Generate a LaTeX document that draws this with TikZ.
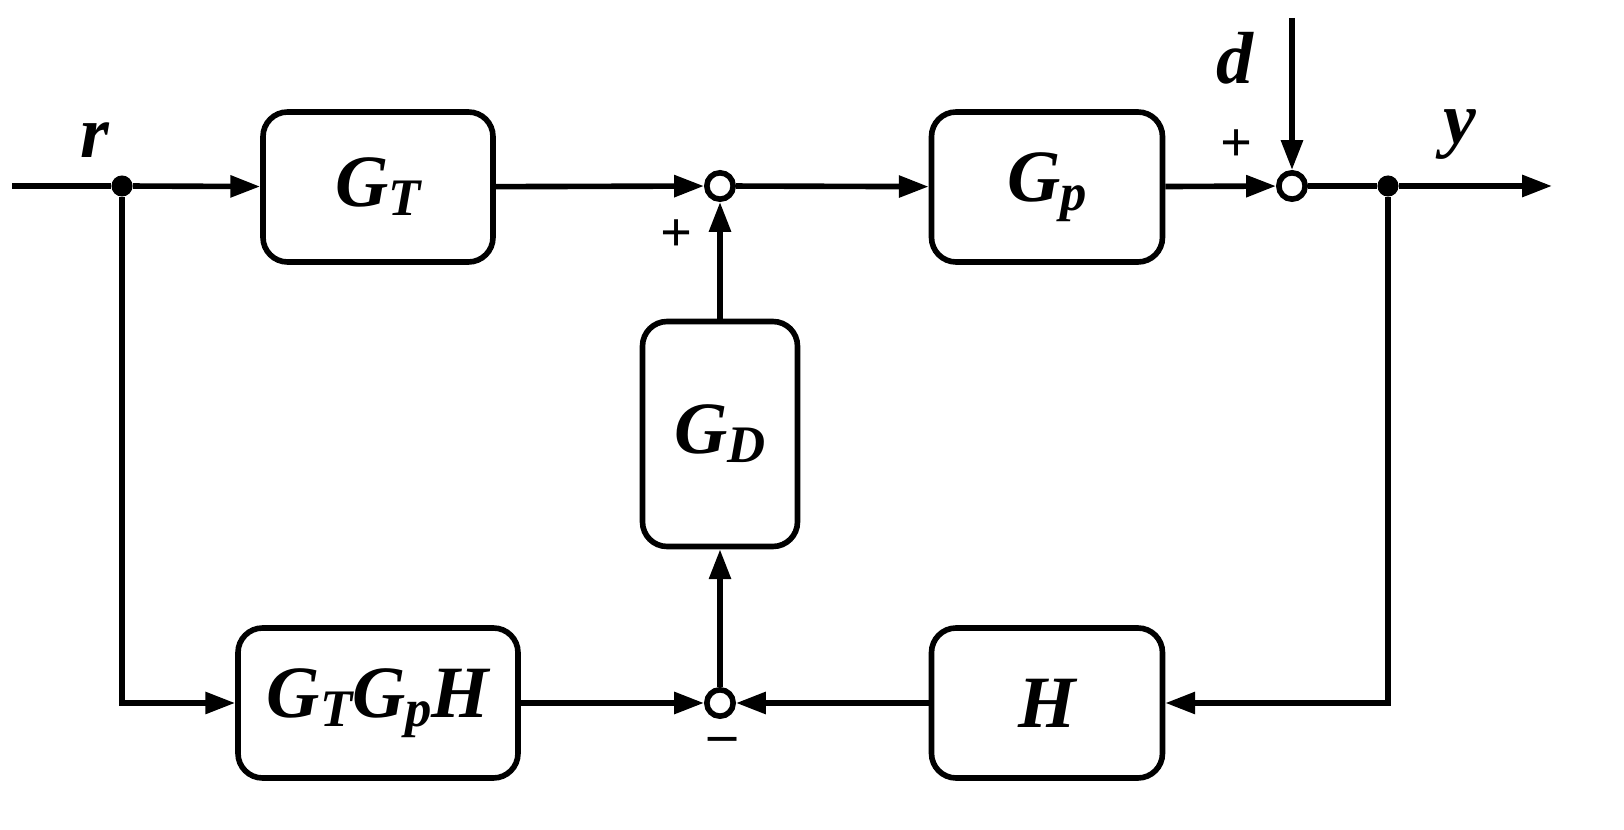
\documentclass[tikz,border=0pt]{standalone}
\usepackage{fontspec}
\setmainfont{Liberation Serif}
\usetikzlibrary{arrows.meta}
\newlength{\du}
\setlength{\du}{0.02cm}
\newcommand{\lo}[1]{\raisebox{-0.12em}{\fontsize{30}{32}\selectfont #1}}
\tikzset{
  blk/.style={draw, line width=3.2pt, rounded corners=14pt, inner sep=0pt},
  sig/.style={line width=3.2pt, -{Triangle[length=17pt,width=12pt]}},
  wire/.style={line width=3.2pt},
  sumc/.style={draw, circle, line width=3.2pt, minimum size=15pt, inner sep=0pt, fill=white},
  dotc/.style={circle, fill, minimum size=12pt, inner sep=0pt},
  lbl/.style={font=\fontsize{42}{48}\selectfont\bfseries\itshape},
  sgn/.style={font=\fontsize{32}{36}\selectfont\bfseries}
}
\begin{document}
\begin{tikzpicture}
% blocks
\node[blk, minimum width=230\du, minimum height=150\du, lbl] (GT) at (378\du,-187\du) {G\lo{T}};
\node[blk, minimum width=231\du, minimum height=150\du, lbl] (Gp) at (1047\du,-187\du) {G\lo{p}};
\node[blk, minimum width=155\du, minimum height=225\du, lbl] (GD) at (720\du,-434\du) {G\lo{D}};
\node[blk, minimum width=280\du, minimum height=150\du, lbl] (GTGpH) at (378\du,-703\du) {G\lo{T}G\lo{p}H};
\node[blk, minimum width=231\du, minimum height=150\du, lbl] (H) at (1047\du,-703\du) {H};
% junctions
\node[sumc] (s1) at (720\du,-186\du) {};
\node[sumc] (s2) at (1292\du,-186\du) {};
\node[sumc] (s3) at (720\du,-703\du) {};
\node[dotc] (j1) at (122\du,-186\du) {};
\node[dotc] (j2) at (1388\du,-186\du) {};
\coordinate (in) at (12\du,-186\du);
\coordinate (out) at (1552\du,-186\du);
\coordinate (dtop) at (1292\du,-18\du);
% signals
\draw[wire] (in) -- (j1);
\draw[sig] (j1) -- (GT);
\draw[sig] (GT) -- (s1);
\draw[sig] (s1) -- (Gp);
\draw[sig] (Gp) -- (s2);
\draw[wire] (s2) -- (j2);
\draw[sig] (j2) -- (out);
\draw[sig] (dtop) -- (s2);
\draw[sig] (j1) |- (GTGpH);
\draw[sig] (j2) |- (H);
\draw[sig] (GTGpH) -- (s3);
\draw[sig] (H) -- (s3);
\draw[sig] (s3) -- (GD);
\draw[sig] (GD) -- (s1);
% labels
\node[lbl] (r) at (95\du,-140\du) {r};
\node[lbl] (d) at (1235\du,-58\du) {d};
\node[lbl] (y) at (1460\du,-135\du) {y};
\node[sgn] (p1) at (677\du,-236\du) {+};
\node[sgn] (p2) at (1237\du,-146\du) {+};
\node[sgn] (m3) at (723\du,-745\du) {\textendash};
\pgfresetboundingbox
\useasboundingbox (0,0) rectangle (1624\du,-830\du);
\end{tikzpicture}
\end{document}
